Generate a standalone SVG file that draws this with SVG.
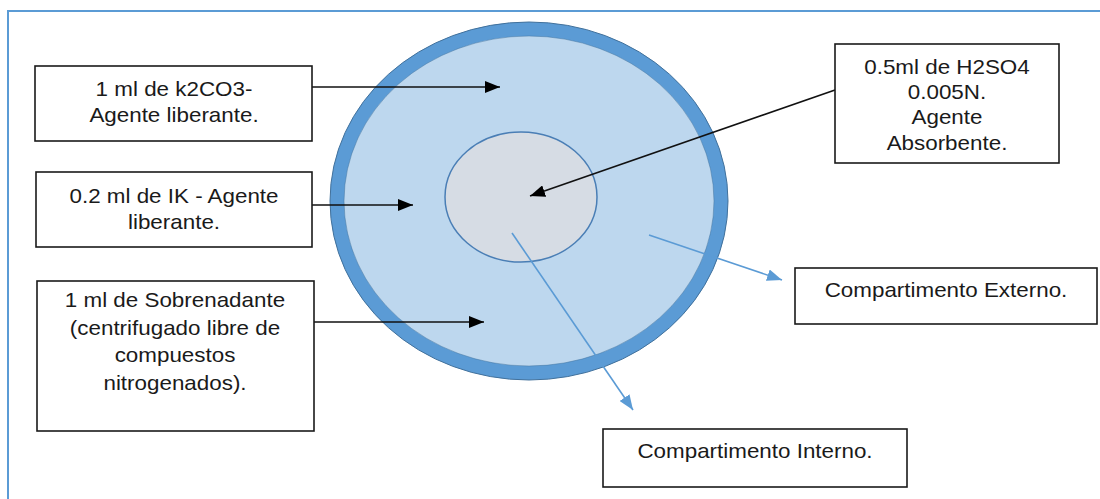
<svg xmlns="http://www.w3.org/2000/svg" width="1100" height="499" viewBox="0 0 1100 499">
<style>
.box{fill:#ffffff;stroke:#1a1a1a;stroke-width:1.6}
.t{font-family:"Liberation Sans",Arial,sans-serif;font-size:20px;fill:#1a1a1a;text-anchor:middle}
.blk{stroke:#111;stroke-width:1.6;fill:none}
.blu{stroke:#5b9bd5;stroke-width:1.6;fill:none}
</style>
<defs>
<marker id="ab" markerUnits="userSpaceOnUse" markerWidth="16" markerHeight="12" refX="15" refY="6" orient="auto"><path d="M0,0 L15,6 L0,12 Z" fill="#000"/></marker>
<marker id="au" markerUnits="userSpaceOnUse" markerWidth="16" markerHeight="12" refX="15" refY="6" orient="auto"><path d="M0,0 L15,6 L0,12 Z" fill="#5b9bd5"/></marker>
</defs>
<rect x="0" y="0" width="1100" height="499" fill="#ffffff"/>
<path d="M8,499 L8,11 L1100,11" fill="none" stroke="#5b9bd5" stroke-width="2"/>
<g id="outer">
<ellipse cx="529" cy="201" rx="192" ry="172" fill="#bdd7ee" stroke="#5b9bd5" stroke-width="14"/>
<ellipse cx="529" cy="201" rx="199" ry="179" fill="none" stroke="#41719c" stroke-width="1"/>
<ellipse cx="529" cy="201" rx="185" ry="165" fill="none" stroke="#41719c" stroke-width="0.8" opacity="0.6"/>
</g>
<g id="inner">
<ellipse cx="521" cy="197" rx="76" ry="65" fill="#d6dce4" stroke="#4a7eb5" stroke-width="1.5"/>
</g>
<g id="connectors">
<line class="blk" x1="312" y1="87" x2="500" y2="87" marker-end="url(#ab)"/>
<line class="blk" x1="312" y1="205" x2="413" y2="205" marker-end="url(#ab)"/>
<line class="blk" x1="314" y1="322" x2="484" y2="322" marker-end="url(#ab)"/>
<line class="blk" x1="835" y1="90" x2="530" y2="196" marker-end="url(#ab)"/>
<line class="blu" x1="649" y1="235" x2="782" y2="280" marker-end="url(#au)"/>
<line class="blu" x1="512" y1="233" x2="633" y2="410" marker-end="url(#au)"/>
</g>
<g id="box1">
<rect class="box" x="35" y="66" width="277" height="75"/>
<text class="t" transform="translate(174,96) scale(1.12,1)">1 ml de k2CO3-</text>
<text class="t" transform="translate(174,122) scale(1.12,1)">Agente liberante.</text>
</g>
<g id="box2">
<rect class="box" x="36" y="172" width="276" height="75"/>
<text class="t" transform="translate(174,203) scale(1.12,1)">0.2 ml de IK - Agente</text>
<text class="t" transform="translate(174,229) scale(1.12,1)">liberante.</text>
</g>
<g id="box3">
<rect class="box" x="37" y="281" width="277" height="150"/>
<text class="t" transform="translate(175,307) scale(1.12,1)">1 ml de Sobrenadante</text>
<text class="t" transform="translate(175,335) scale(1.12,1)">(centrifugado libre de</text>
<text class="t" transform="translate(175,362) scale(1.12,1)">compuestos</text>
<text class="t" transform="translate(175,390) scale(1.12,1)">nitrogenados).</text>
</g>
<g id="box4">
<rect class="box" x="835" y="44" width="224" height="119"/>
<text class="t" transform="translate(947,74) scale(1.12,1)">0.5ml de H2SO4</text>
<text class="t" transform="translate(947,99) scale(1.12,1)">0.005N.</text>
<text class="t" transform="translate(947,124) scale(1.12,1)">Agente</text>
<text class="t" transform="translate(947,150) scale(1.12,1)">Absorbente.</text>
</g>
<g id="box5">
<rect class="box" x="795" y="268" width="302" height="56"/>
<text class="t" transform="translate(946,297) scale(1.12,1)">Compartimento Externo.</text>
</g>
<g id="box6">
<rect class="box" x="603" y="429" width="304" height="58"/>
<text class="t" transform="translate(755,458) scale(1.12,1)">Compartimento Interno.</text>
</g>
</svg>
